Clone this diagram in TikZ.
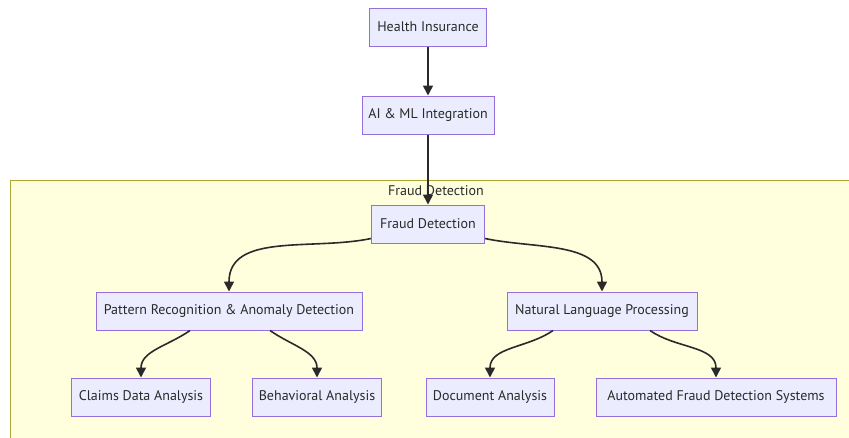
\documentclass[tikz,border=0pt]{standalone}
\usepackage{fontspec}
\setmainfont{PT Sans}
\usetikzlibrary{arrows.meta}
\definecolor{nodefill}{HTML}{ECECFF}
\definecolor{nodeline}{HTML}{9370DB}
\definecolor{clusterfill}{HTML}{FFFFDE}
\definecolor{clusterline}{HTML}{AAAA33}
\definecolor{txt}{HTML}{2A2A2A}

\begin{document}
\begin{tikzpicture}[x=1pt,y=-1pt,>={Triangle[length=10pt,width=10pt]},
    every node/.style={font=\fontsize{14}{16}\selectfont,text=txt},
    box/.style={draw=nodeline,fill=nodefill,line width=1pt,minimum height=38pt,inner xsep=5pt},
    arr/.style={->,line width=1.6pt,draw=txt}]
    \useasboundingbox (0,0) rectangle (849,437);
    % subgraph
    \filldraw[fill=clusterfill,draw=clusterline,line width=1pt] (10,180) rectangle (870,450);
    \node (cl) at (436,191) {Fraud Detection};
    % nodes
    \node[box,minimum width=117pt] (hi) at (428,27) {Health Insurance};
    \node[box,minimum width=132pt] (ai) at (428,115) {AI \& ML Integration};
    \node[box,minimum width=113pt] (fd) at (428,224) {Fraud Detection};
    \node[box,minimum width=266pt] (pr) at (229,311) {Pattern Recognition \& Anomaly Detection};
    \node[box,minimum width=190pt] (nlp) at (602,311) {Natural Language Processing};
    \node[box,minimum width=139pt] (cd) at (141,397) {Claims Data Analysis};
    \node[box,minimum width=129pt] (ba) at (317,397) {Behavioral Analysis};
    \node[box,minimum width=128pt] (da) at (490,397) {Document Analysis};
    \node[box,minimum width=240pt] (af) at (716,397) {Automated Fraud Detection Systems};
    % edges
    \draw[arr] (hi) -- (ai);
    \draw[arr] (ai) -- (fd);
    \draw[arr] (fd.south west) ++(0,-5) to[out=192,in=90] (pr.north);
    \draw[arr] (fd.south east) ++(0,-5) to[out=-12,in=90] (nlp.north);
    \draw[arr] (pr.south) ++(-39,0) to[out=215,in=90] (cd.north);
    \draw[arr] (pr.south) ++(41,0) to[out=-35,in=90] (ba.north);
    \draw[arr] (nlp.south) ++(-49,0) to[out=215,in=90] (da.north);
    \draw[arr] (nlp.south) ++(48,0) to[out=-35,in=90] (af.north);
\end{tikzpicture}
\end{document}
